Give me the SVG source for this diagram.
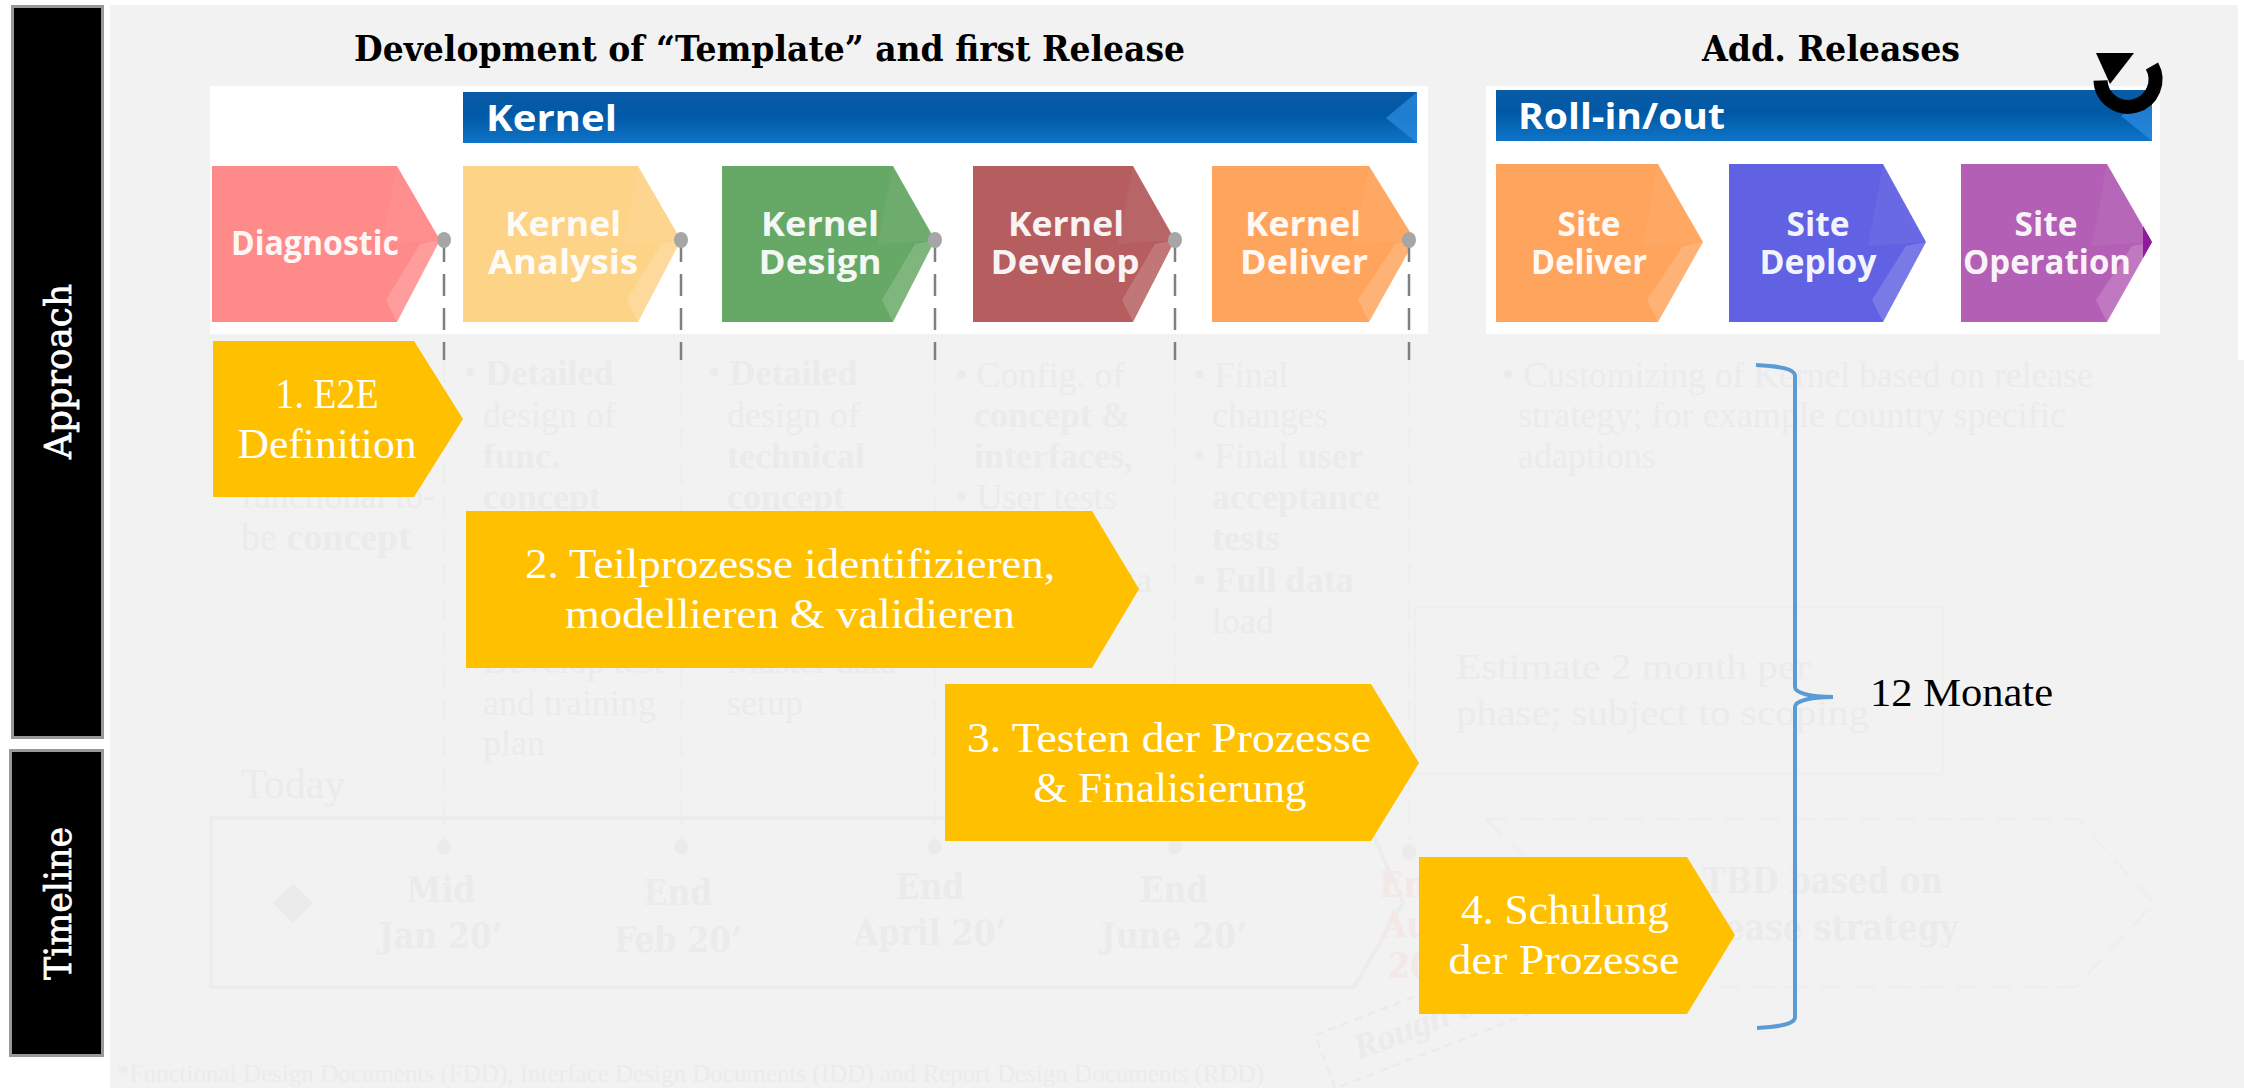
<svg xmlns="http://www.w3.org/2000/svg" width="2244" height="1088" viewBox="0 0 2244 1088">
<defs>
<linearGradient id="bar" x1="0" y1="0" x2="0" y2="1"><stop offset="0" stop-color="#0a5ba6"/><stop offset="0.45" stop-color="#0059a5"/><stop offset="1" stop-color="#0f74c8"/></linearGradient>
</defs>
<style>
.pt{font-family:"Open Sans","Noto Sans",sans-serif;font-weight:700;fill:#fff;font-size:34px;text-anchor:middle;opacity:.93}
.bt{font-family:"Open Sans","Noto Sans",sans-serif;font-weight:700;fill:#fff;font-size:35px}
.yt{font-family:"Liberation Serif",serif;fill:#fff;font-size:42px;text-anchor:middle}
.hd{font-family:"DejaVu Serif Condensed","DejaVu Serif",serif;font-weight:700;fill:#000;font-size:36px}
.side{font-family:"DejaVu Serif",serif;fill:#fff;stroke:#fff;stroke-width:.7;font-size:37px}
.f{font-family:"Liberation Serif",serif;fill:#ebebeb;font-size:36px}
.fb{font-weight:700}
.fm{font-family:"DejaVu Serif Condensed",serif;font-weight:700;fill:#ebebeb;font-size:35px;text-anchor:middle}
.y{fill:#ffc000}
.lit{fill:#fff;opacity:.16}
.lit2{fill:#fff;opacity:.05}
.dot{fill:#a6a6a6}
.fdot{fill:#ebebeb}
.dash{stroke:#7f7f7f;stroke-width:2.5;stroke-dasharray:22 12;fill:none}
.fdash{stroke:#eeeeee;stroke-width:2.5;stroke-dasharray:22 12;fill:none}
.fbox{stroke:#ececec;stroke-width:4;fill:none}
.brace{stroke:#5b9bd5;stroke-width:4;fill:none}
</style>

<rect width="2244" height="1088" fill="#fff"/>
<rect x="110" y="5" width="2128" height="1083" fill="#f2f2f2"/>
<rect x="2238" y="360" width="6" height="728" fill="#f2f2f2"/>

<g id="faint-background">
<path class="fdash" d="M444 360V840M681 360V840M935 360V840M1175 360V840M1409 360V840"/>
<text class="f" style="font-size:38px" x="241" y="508" textLength="194" lengthAdjust="spacingAndGlyphs">functional to-</text>
<text class="f" style="font-size:38px" x="241" y="550">be <tspan class="fb">concept</tspan></text>
<text class="f" x="464" y="385">• <tspan class="fb">Detailed</tspan></text>
<text class="f" x="483" y="427">design of</text>
<text class="f fb" x="483" y="468">func.</text>
<text class="f fb" x="483" y="509">concept</text>
<text class="f" x="483" y="673">Develop test</text>
<text class="f" x="483" y="715">and training</text>
<text class="f" x="483" y="755">plan</text>
<text class="f" x="708" y="385">• <tspan class="fb">Detailed</tspan></text>
<text class="f" x="727" y="427">design of</text>
<text class="f fb" x="727" y="468">technical</text>
<text class="f fb" x="727" y="509">concept</text>
<text class="f" x="727" y="673">Master data</text>
<text class="f" x="727" y="715">setup</text>
<text class="f" x="955" y="387">• Config. of</text>
<text class="f fb" x="974" y="427">concept &amp;</text>
<text class="f fb" x="974" y="468">interfaces,</text>
<text class="f" x="955" y="509">• User tests</text>
<text class="f" x="1110" y="592">ata</text>
<text class="f" x="1193" y="387">• Final</text>
<text class="f" x="1212" y="427">changes</text>
<text class="f" x="1193" y="468">• Final <tspan class="fb">user</tspan></text>
<text class="f fb" x="1212" y="509">acceptance</text>
<text class="f fb" x="1212" y="550">tests</text>
<text class="f fb" x="1193" y="592">• Full data</text>
<text class="f" x="1212" y="633">load</text>
<text class="f" x="1502" y="387" textLength="591" lengthAdjust="spacingAndGlyphs">• Customizing of Kernel based on release</text>
<text class="f" x="1518" y="427" textLength="548" lengthAdjust="spacingAndGlyphs">strategy; for example country specific</text>
<text class="f" x="1518" y="468">adaptions</text>
<rect x="1415" y="607" width="528" height="167" fill="none" stroke="#efefef" stroke-width="3"/>
<text class="f" x="1456" y="679" textLength="354" lengthAdjust="spacingAndGlyphs">Estimate 2 month per</text>
<text class="f" x="1456" y="725" textLength="413" lengthAdjust="spacingAndGlyphs">phase; subject to scoping</text>
<text class="f" style="font-size:42px" x="241" y="798">Today</text>
<path class="fbox" d="M211 818H1366L1403 903L1354 987H211Z"/>
<path fill="#ebebeb" d="M293 883L313 903L293 923L273 903Z"/>
<ellipse class="fdot" cx="444" cy="847" rx="7" ry="8"/>
<ellipse class="fdot" cx="681" cy="847" rx="7" ry="8"/>
<ellipse class="fdot" cx="935" cy="847" rx="7" ry="8"/>
<ellipse class="fdot" cx="1175" cy="847" rx="7" ry="8"/>
<ellipse class="fdot" cx="1409" cy="852" rx="7" ry="8"/>
<text class="fm" x="441" y="902">Mid</text><text class="fm" x="441" y="948">Jan 20’</text>
<text class="fm" x="678" y="905">End</text><text class="fm" x="678" y="952">Feb 20’</text>
<text class="fm" x="930" y="899">End</text><text class="fm" x="930" y="945">April 20’</text>
<text class="fm" x="1174" y="902">End</text><text class="fm" x="1174" y="948">June 20’</text>
<text class="fm" style="fill:#f3e8e6" x="1414" y="897">End</text><text class="fm" style="fill:#f3e8e6" x="1444" y="937">August</text><text class="fm" style="fill:#f3e8e6" x="1432" y="978">2020</text>
<path class="fdash" stroke-dasharray="14 10" d="M1486 819H2078L2154 903L2076 987H1712M1486 819L1524 856"/>
<text class="fm" x="1823" y="893" textLength="240" lengthAdjust="spacingAndGlyphs">TBD based on</text>
<text class="fm" style="text-anchor:end" x="1958" y="940">release strategy</text>
<g transform="translate(1315 1035) rotate(-21)">
<rect x="0" y="0" width="300" height="57" fill="none" stroke="#ebebeb" stroke-width="2.500" stroke-dasharray="8 6"/>
<text class="f fb" style="font-style:italic" x="32" y="39">Rough estimate</text>
</g>
<text class="f" style="font-size:25px" x="117" y="1082" textLength="1147" lengthAdjust="spacingAndGlyphs">*Functional Design Documents (FDD), Interface Design Documents (IDD) and Report Design Documents (RDD)</text>
</g>

<rect x="210" y="86" width="1218" height="248" fill="#fff"/>
<rect x="1486" y="86" width="674" height="248" fill="#fff"/>

<g id="label-approach">
<rect x="12.500" y="6.500" width="90" height="731" fill="#000" stroke="#999" stroke-width="3"/>
<text class="side" transform="translate(71 459) rotate(-90)" textLength="175" lengthAdjust="spacingAndGlyphs">Approach</text>
</g>
<g id="label-timeline">
<rect x="10.500" y="750.500" width="92" height="305" fill="#000" stroke="#999" stroke-width="3"/>
<text class="side" transform="translate(71 980) rotate(-90)" textLength="153" lengthAdjust="spacingAndGlyphs">Timeline</text>
</g>

<g id="title-template"><text class="hd" x="354" y="61" textLength="831" lengthAdjust="spacingAndGlyphs">Development of “Template” and first Release</text></g>
<g id="title-releases"><text class="hd" x="1702" y="61" textLength="258" lengthAdjust="spacingAndGlyphs">Add. Releases</text></g>

<g id="bar-kernel">
<rect x="463" y="92" width="954" height="51" fill="url(#bar)"/>
<path fill="#2b8be0" opacity=".75" d="M1417 92V143L1386 118Z"/>
<text class="bt" x="486" y="131" textLength="131" lengthAdjust="spacingAndGlyphs">Kernel</text>
</g>
<g id="bar-rollout">
<rect x="1496" y="90" width="656" height="51" fill="url(#bar)"/>
<path fill="#2b8be0" opacity=".75" d="M2152 90V141L2121 116Z"/>
<text class="bt" x="1518" y="129" textLength="207" lengthAdjust="spacingAndGlyphs">Roll-in/out</text>
</g>

<g id="node-diagnostic">
<path fill="#ff8a8a" d="M212 166H397L440 240L397 322H212Z"/>
<path class="lit2" d="M397 166L440 240L382 244Z"/>
<path class="lit" d="M440 240L397 322L386 300L420 244Z"/>
<text class="pt" x="315" y="255" textLength="168" lengthAdjust="spacingAndGlyphs">Diagnostic</text>
</g>
<g id="node-kernel-analysis">
<path fill="#fdd388" d="M463 166H638L681 240L638 322H463Z"/>
<path class="lit2" d="M638 166L681 240L623 244Z"/>
<path class="lit" d="M681 240L638 322L627 300L661 244Z"/>
<text class="pt" x="563" y="236" textLength="116" lengthAdjust="spacingAndGlyphs">Kernel</text>
<text class="pt" x="563" y="274" textLength="150" lengthAdjust="spacingAndGlyphs">Analysis</text>
</g>
<g id="node-kernel-design">
<path fill="#66a866" d="M722 166H893L935 240L893 322H722Z"/>
<path class="lit2" d="M893 166L935 240L878 244Z"/>
<path class="lit" d="M935 240L893 322L882 300L915 244Z"/>
<text class="pt" x="820" y="236" textLength="118" lengthAdjust="spacingAndGlyphs">Kernel</text>
<text class="pt" x="820" y="274" textLength="123" lengthAdjust="spacingAndGlyphs">Design</text>
</g>
<g id="node-kernel-develop">
<path fill="#b55d5f" d="M973 166H1133L1175 240L1133 322H973Z"/>
<path class="lit2" d="M1133 166L1175 240L1118 244Z"/>
<path class="lit" d="M1175 240L1133 322L1122 300L1155 244Z"/>
<text class="pt" x="1066" y="236" textLength="116" lengthAdjust="spacingAndGlyphs">Kernel</text>
<text class="pt" x="1065" y="274" textLength="149" lengthAdjust="spacingAndGlyphs">Develop</text>
</g>
<g id="node-kernel-deliver">
<path fill="#ffa45c" d="M1212 166H1369L1415 240L1369 322H1212Z"/>
<path class="lit2" d="M1369 166L1415 240L1354 244Z"/>
<path class="lit" d="M1415 240L1369 322L1358 300L1395 244Z"/>
<text class="pt" x="1303" y="236" textLength="116" lengthAdjust="spacingAndGlyphs">Kernel</text>
<text class="pt" x="1304" y="274" textLength="128" lengthAdjust="spacingAndGlyphs">Deliver</text>
</g>
<g id="node-site-deliver">
<path fill="#ffa45c" d="M1496 164H1658L1703 242L1658 322H1496Z"/>
<path class="lit2" d="M1658 164L1703 242L1643 246Z"/>
<path class="lit" d="M1703 242L1658 322L1647 300L1683 246Z"/>
<text class="pt" x="1589" y="236" textLength="63" lengthAdjust="spacingAndGlyphs">Site</text>
<text class="pt" x="1589" y="274" textLength="116" lengthAdjust="spacingAndGlyphs">Deliver</text>
</g>
<g id="node-site-deploy">
<path fill="#6161e3" d="M1729 164H1883L1926 242L1883 322H1729Z"/>
<path class="lit2" d="M1883 164L1926 242L1868 246Z"/>
<path class="lit" d="M1926 242L1883 322L1872 300L1906 246Z"/>
<text class="pt" x="1818" y="236" textLength="63" lengthAdjust="spacingAndGlyphs">Site</text>
<text class="pt" x="1818" y="274" textLength="117" lengthAdjust="spacingAndGlyphs">Deploy</text>
</g>
<g id="node-site-operation">
<path fill="#b35fb5" d="M1961 164H2107L2152 242L2107 322H1961Z"/>
<path class="lit2" d="M2107 164L2152 242L2092 246Z"/>
<path class="lit" d="M2152 242L2107 322L2096 300L2132 246Z"/>
<path fill="#8f1a9c" d="M2143 226L2152 242L2143 258Z"/>
<text class="pt" x="2046" y="236" textLength="63" lengthAdjust="spacingAndGlyphs">Site</text>
<text class="pt" x="2047" y="274" textLength="168" lengthAdjust="spacingAndGlyphs">Operation</text>
</g>

<g id="connectors">
<path class="dash" d="M444 240V360M681 240V360M935 240V360M1175 240V360M1409 240V360"/>
<path class="brace" d="M1756 365C1775 366 1795 368 1795 376V687C1795 693 1810 697 1833 697C1810 697 1795 701 1795 707V1017C1795 1025 1775 1027 1757 1028"/>
</g>
<g id="milestones">
<ellipse class="dot" cx="444" cy="240" rx="7" ry="8"/>
<ellipse class="dot" cx="681" cy="240" rx="7" ry="8"/>
<ellipse class="dot" cx="935" cy="240" rx="7" ry="8"/>
<ellipse class="dot" cx="1175" cy="240" rx="7" ry="8"/>
<ellipse class="dot" cx="1409" cy="240" rx="7" ry="8"/>
</g>

<g id="icon-repeat">
<path fill="none" stroke="#000" stroke-width="14" d="M2152 66A27.500 27.500 0 1 1 2100.500 80.500"/>
<path fill="#000" d="M2096 53H2134L2110 84Z"/>
</g>

<g id="step-1">
<path class="y" d="M213 341H414L463 419L414 497H213Z"/>
<text class="yt" x="327" y="408" textLength="103" lengthAdjust="spacingAndGlyphs">1. E2E</text>
<text class="yt" x="327" y="458" textLength="179" lengthAdjust="spacingAndGlyphs">Definition</text>
</g>
<g id="step-2">
<path class="y" d="M466 511H1092L1139 589L1092 668H466Z"/>
<text class="yt" x="790" y="578" textLength="530" lengthAdjust="spacingAndGlyphs">2. Teilprozesse identifizieren,</text>
<text class="yt" x="790" y="628" textLength="450" lengthAdjust="spacingAndGlyphs">modellieren &amp; validieren</text>
</g>
<g id="step-3">
<path class="y" d="M945 684H1371L1419 763L1371 841H945Z"/>
<text class="yt" x="1169" y="752" textLength="404" lengthAdjust="spacingAndGlyphs">3. Testen der Prozesse</text>
<text class="yt" x="1170" y="802" textLength="273" lengthAdjust="spacingAndGlyphs">&amp; Finalisierung</text>
</g>
<g id="step-4">
<path class="y" d="M1419 857H1687L1735 935L1687 1014H1419Z"/>
<text class="yt" x="1565" y="924" textLength="208" lengthAdjust="spacingAndGlyphs">4. Schulung</text>
<text class="yt" x="1564" y="974" textLength="231" lengthAdjust="spacingAndGlyphs">der Prozesse</text>
</g>
<g id="label-duration">
<text style="font-family:'Liberation Serif',serif;font-size:40px;fill:#000" x="1870" y="706" textLength="183" lengthAdjust="spacingAndGlyphs">12 Monate</text>
</g>
</svg>
